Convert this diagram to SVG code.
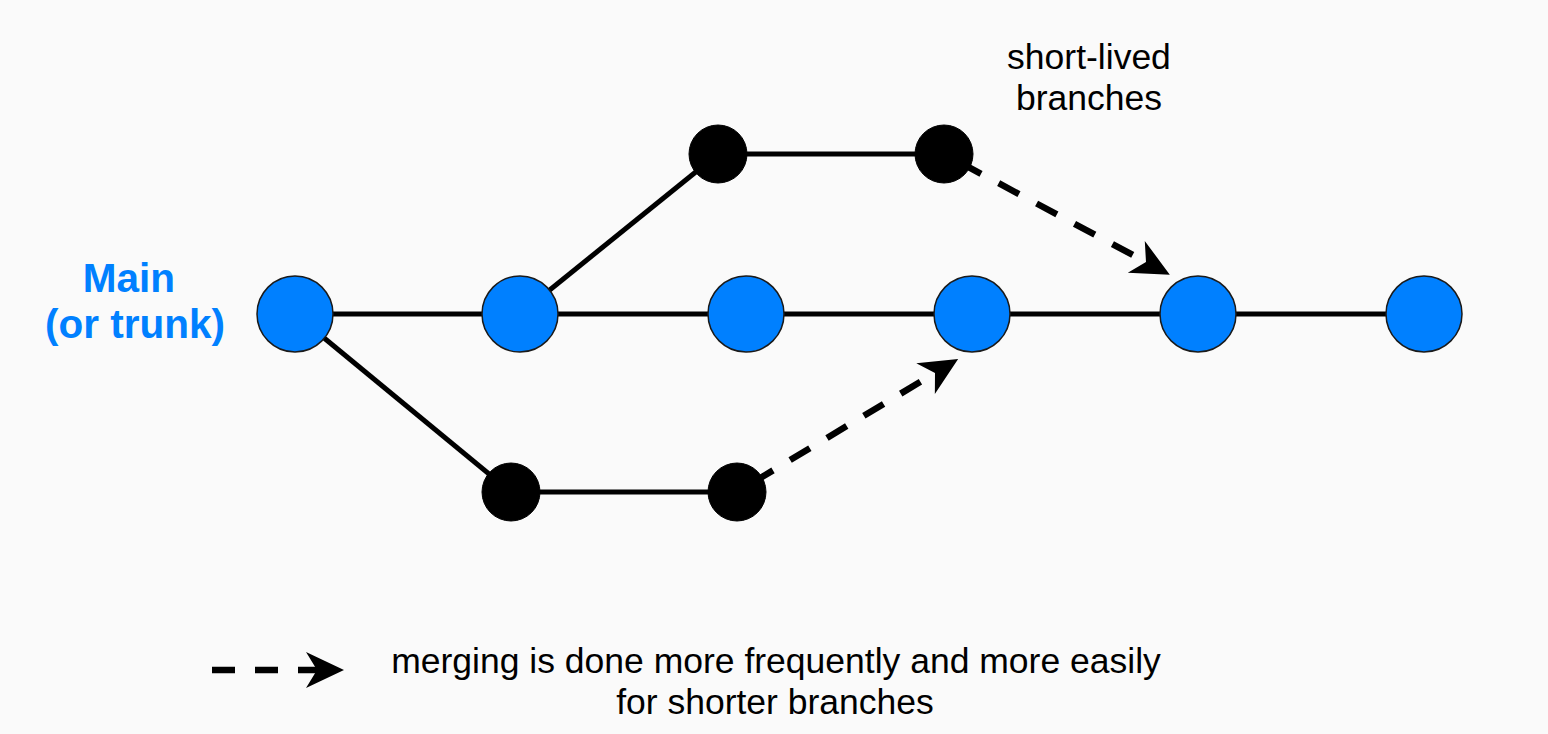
<svg xmlns="http://www.w3.org/2000/svg" width="1548" height="734" viewBox="0 0 1548 734">
  <style>
    .edge { stroke: #000; stroke-width: 5; fill: none; }
    .dash { stroke: #000; stroke-width: 6.5; fill: none; stroke-dasharray: 23 20; }
    .diag { stroke-dashoffset: -19; }
    .main { fill: #0080ff; stroke: #1a1a1a; stroke-width: 1.5; }
    .br { fill: #000; stroke: #000; stroke-width: 1; }
    .lbl { font-family: "Liberation Sans", Arial, sans-serif; font-size: 35.5px; fill: #000; text-anchor: middle; }
    .title { font-family: "Liberation Sans", Arial, sans-serif; font-size: 40.5px; font-weight: bold; fill: #0080ff; text-anchor: middle; }
  </style>
  <defs>
    <marker id="arr" markerUnits="userSpaceOnUse" markerWidth="44" markerHeight="44" viewBox="-2 -22 44 44" refX="11" refY="0" orient="auto">
      <path d="M0,-18 L38,0 L0,18 L11,0 Z" fill="#000"/>
    </marker>
  </defs>
  <rect width="1548" height="734" fill="#fafafa"/>

  <g id="connectors">
    <line class="edge" x1="295" y1="314" x2="1424" y2="314"/>
    <line class="edge" x1="520" y1="314" x2="718" y2="154"/>
    <line class="edge" x1="718" y1="154" x2="944" y2="154"/>
    <line class="edge" x1="295" y1="314" x2="511" y2="492"/>
    <line class="edge" x1="511" y1="492" x2="737" y2="492"/>
    <line class="dash diag" x1="944" y1="154" x2="1146" y2="262" marker-end="url(#arr)"/>
    <line class="dash diag" x1="737" y1="492" x2="935" y2="373" marker-end="url(#arr)"/>
  </g>

  <g id="main-1"><circle class="main" cx="295" cy="314" r="38"/></g>
  <g id="main-2"><circle class="main" cx="520" cy="314" r="38"/></g>
  <g id="main-3"><circle class="main" cx="746" cy="314" r="38"/></g>
  <g id="main-4"><circle class="main" cx="972" cy="314" r="38"/></g>
  <g id="main-5"><circle class="main" cx="1198" cy="314" r="38"/></g>
  <g id="main-6"><circle class="main" cx="1424" cy="314" r="38"/></g>

  <g id="top-1"><circle class="br" cx="718" cy="154" r="29"/></g>
  <g id="top-2"><circle class="br" cx="944" cy="154" r="29"/></g>
  <g id="bottom-1"><circle class="br" cx="511" cy="492" r="29"/></g>
  <g id="bottom-2"><circle class="br" cx="737" cy="492" r="29"/></g>

  <g id="main-label">
    <text class="title" x="129" y="292">Main</text>
    <text class="title" x="135" y="338">(or trunk)</text>
  </g>

  <g id="short-lived-label">
    <text class="lbl" x="1089" y="69">short-lived</text>
    <text class="lbl" x="1089" y="110">branches</text>
  </g>

  <g id="legend">
    <line class="dash" x1="212" y1="670" x2="317" y2="670" marker-end="url(#arr)"/>
    <text class="lbl" x="776" y="673">merging is done more frequently and more easily</text>
    <text class="lbl" x="775" y="714">for shorter branches</text>
  </g>
</svg>
